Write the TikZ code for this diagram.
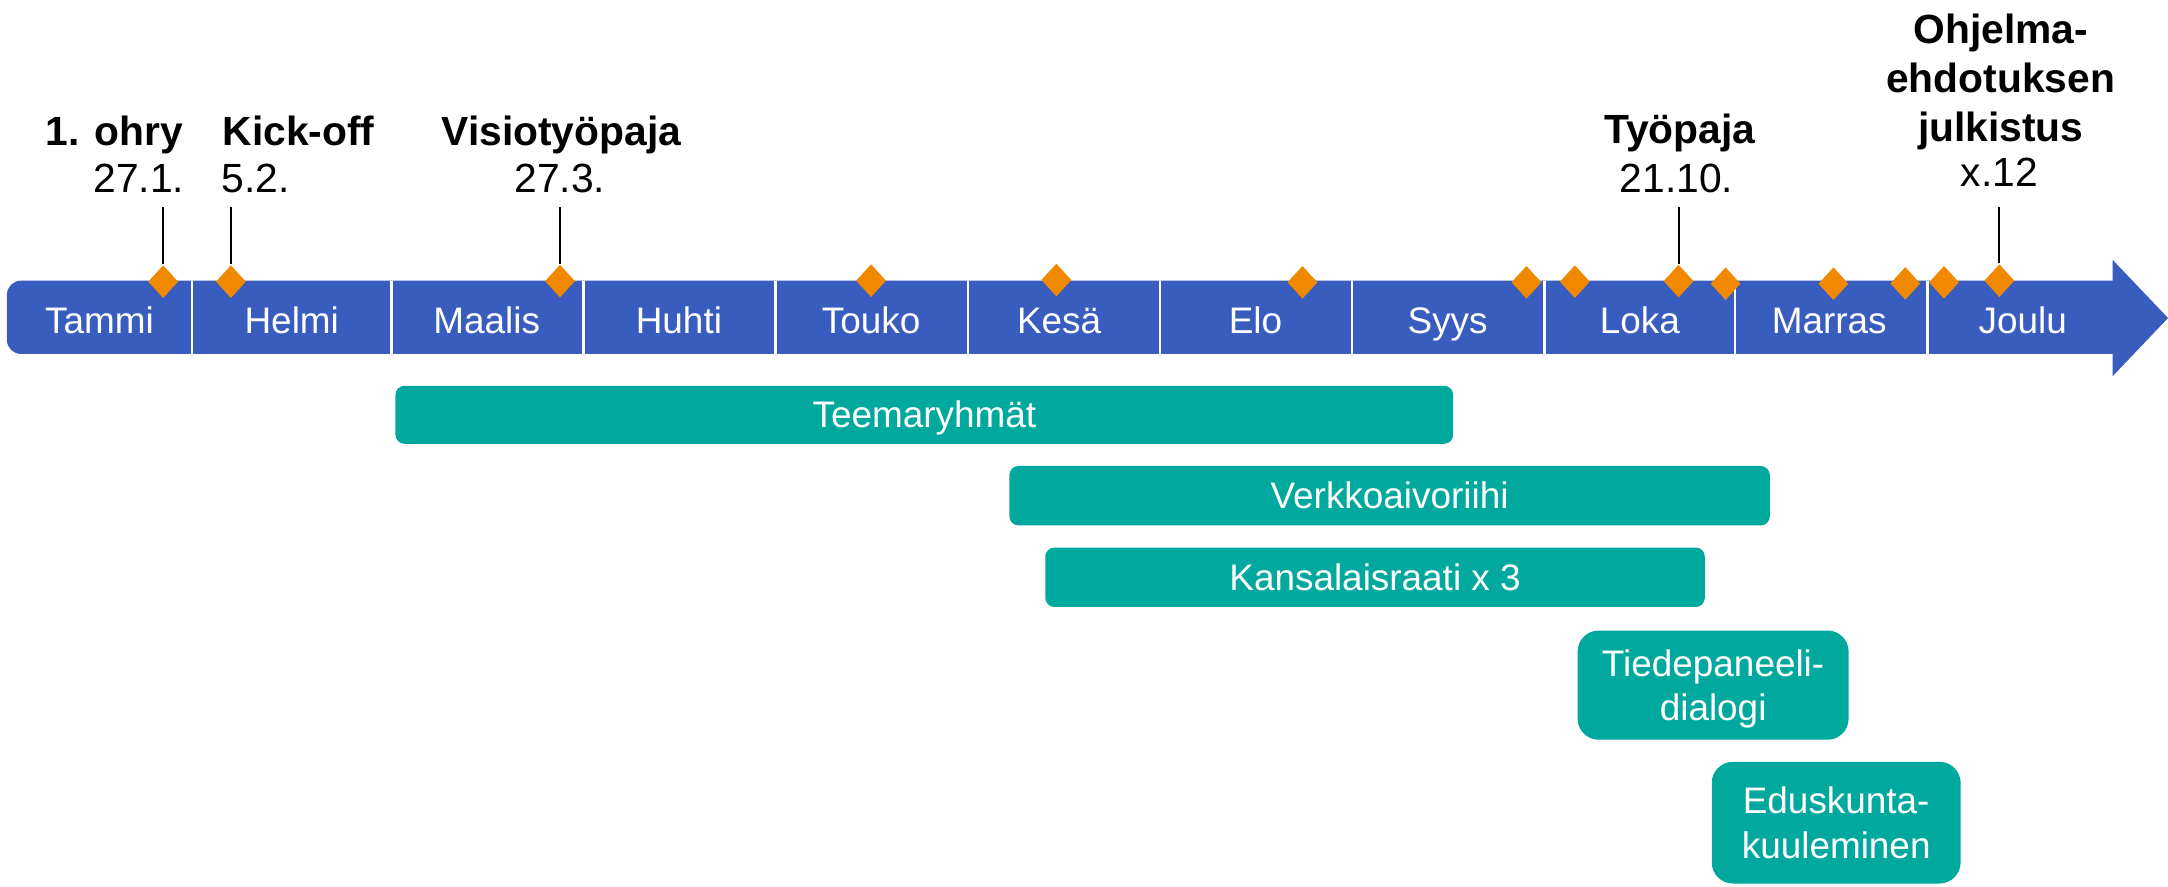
\documentclass[tikz,border=0pt]{standalone}
\usepackage{fontspec}
\setmainfont{Liberation Sans}
\usetikzlibrary{shapes.geometric}
\definecolor{barblue}{RGB}{57,92,191}
\definecolor{tealc}{RGB}{0,168,158}
\definecolor{orangec}{RGB}{240,136,0}
\begin{document}
\begin{tikzpicture}[x=0.013827cm, y=-0.013827cm,
  monthlbl/.style={text=white, font=\fontsize{10.5}{12.6}\selectfont, anchor=base, inner sep=0},
  msdiamond/.style={diamond, fill=orangec, inner sep=0, minimum width=22*0.013827cm, minimum height=24*0.013827cm},
  evtitle/.style={font=\fontsize{11.6}{13.9}\selectfont\bfseries, anchor=base, inner sep=0},
  evdate/.style={font=\fontsize{11.6}{13.9}\selectfont, anchor=base, inner sep=0},
  phasebox/.style={fill=tealc, text=white, font=\fontsize{10.5}{12.6}\selectfont, inner sep=0, align=center},
  onebox/.style={phasebox, rounded corners=2.6pt, text height=7.5pt, text depth=0pt},
  twobox/.style={phasebox, rounded corners=6pt},
  ticklink/.style={draw=black, line width=0.6pt},
  divider/.style={draw=white, line width=0.7pt}
]
\useasboundingbox (0,0) rectangle (1568,641);
% timeline bar
\fill[barblue, rounded corners=4pt] (5,203) rectangle (1542,256);
\fill[barblue] (1528,188) -- (1568,230) -- (1528,272) -- cycle;
\foreach \dx in {139,283,422,561,700,839,978,1117,1255,1394}
  \draw[divider] (\dx,203) -- (\dx,256);
% months
\node[monthlbl] (m1)  at (72,241)   {Tammi};
\node[monthlbl] (m2)  at (211,241)  {Helmi};
\node[monthlbl] (m3)  at (352,241)  {Maalis};
\node[monthlbl] (m4)  at (491,241)  {Huhti};
\node[monthlbl] (m5)  at (630,241)  {Touko};
\node[monthlbl] (m6)  at (766,241)  {Kesä};
\node[monthlbl] (m7)  at (908,241)  {Elo};
\node[monthlbl] (m8)  at (1047,241) {Syys};
\node[monthlbl] (m9)  at (1186,241) {Loka};
\node[monthlbl] (m10) at (1323,241) {Marras};
\node[monthlbl] (m11) at (1463,241) {Joulu};
% diamonds
\node[msdiamond] (dm1)  at (118,203.7) {};
\node[msdiamond] (dm2)  at (167,203.7) {};
\node[msdiamond] (dm3)  at (405,203.3) {};
\node[msdiamond] (dm4)  at (630,203) {};
\node[msdiamond] (dm5)  at (764,202.5) {};
\node[msdiamond] (dm6)  at (942,204.2) {};
\node[msdiamond] (dm7)  at (1104,204.2) {};
\node[msdiamond] (dm8)  at (1139,203.7) {};
\node[msdiamond] (dm9)  at (1214,203.3) {};
\node[msdiamond] (dm10) at (1248,205.2) {};
\node[msdiamond] (dm11) at (1326,205.2) {};
\node[msdiamond] (dm12) at (1378,205) {};
\node[msdiamond] (dm13) at (1406,204.2) {};
\node[msdiamond] (dm14) at (1446,203) {};
% event labels
\node[evtitle] (e1) at (82.5,105) {1. ohry};
\node[evdate]  (d1) at (100.5,139.5)  {27.1.};
\node[evtitle] (e2) at (216,105)  {Kick-off};
\node[evdate]  (d2) at (185,139.5)    {5.2.};
\node[evtitle] (e3) at (406,105)  {Visiotyöpaja};
\node[evdate]  (d3) at (405,139.5)    {27.3.};
\node[evtitle] (e4) at (1215,104) {Työpaja};
\node[evdate]  (d4) at (1212.5,139) {21.10.};
\node[font=\fontsize{11.6}{13.9}\selectfont\bfseries, align=center, inner sep=0, anchor=south] (e5) at (1447,109) {Ohjelma-\\ehdotuksen\\julkistus};
\node[evdate]  (d5) at (1446,135)   {x.12};
% tick lines
\coordinate (t1) at (118,150);
\coordinate (t2) at (167,150);
\coordinate (t3) at (405,150);
\coordinate (t4) at (1214,150);
\coordinate (t5) at (1446,150);
\draw[ticklink] (dm1.north) -- (t1);
\draw[ticklink] (dm2.north) -- (t2);
\draw[ticklink] (dm3.north) -- (t3);
\draw[ticklink] (dm9.north) -- (t4);
\draw[ticklink] (dm14.north) -- (t5);
% phases
\node[onebox, minimum width=765*0.013827cm, minimum height=42*0.013827cm] (p1) at (668.5,300) {Teemaryhmät};
\node[onebox, minimum width=550*0.013827cm, minimum height=43*0.013827cm] (p2) at (1005,358.5) {Verkkoaivoriihi};
\node[onebox, minimum width=477*0.013827cm, minimum height=43*0.013827cm] (p3) at (994.5,417.5) {Kansalaisraati x 3};
\node[twobox, text depth=0pt, minimum width=196*0.013827cm, minimum height=79*0.013827cm] (p4) at (1239,495.5) {Tiedepaneeli-\\dialogi};
\node[twobox, minimum width=180*0.013827cm, minimum height=88*0.013827cm] (p5) at (1328,595) {Eduskunta-\\kuuleminen};
\end{tikzpicture}
\end{document}
